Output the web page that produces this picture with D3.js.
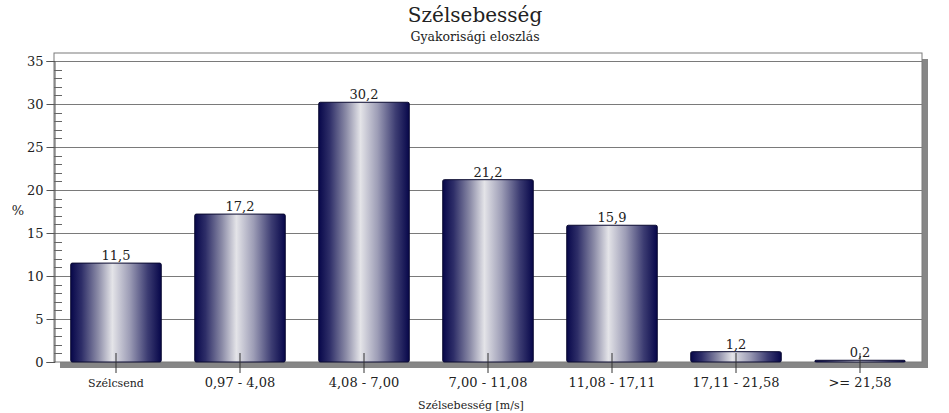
<!DOCTYPE html>
<html>
<head>
<meta charset="utf-8">
<script src="https://cdn.jsdelivr.net/npm/d3@7"></script>
<style>
    body { margin: 0; background: #fff; }
    text { font-family: "DejaVu Serif", serif; fill: #222; }
</style>
</head>
<body>
<svg id="chart" width="949" height="413"></svg>
<script>
// categories and values
const categories = ["Szélcsend", "0,97 - 4,08", "4,08 - 7,00", "7,00 - 11,08", "11,08 - 17,11", "17,11 - 21,58", ">= 21,58"];
const values = [11.5, 17.2, 30.2, 21.2, 15.9, 1.2, 0.2];
const yTicks = [0, 5, 10, 15, 20, 25, 30, 35];

const svg = d3.select("#chart");
const plotLeft = 54, plotRight = 922, plotTop = 53, plotBottom = 362;

const x = d3.scaleBand().domain(categories).range([plotLeft, plotRight]).paddingInner(0.27).paddingOuter(0.135);
const y = d3.scaleLinear().domain([0, 35]).range([plotBottom, 61]);

// bar gradient
const grad = svg.append("defs").append("linearGradient")
    .attr("id", "barGrad").attr("x1", "0%").attr("x2", "100%").attr("y1", "0%").attr("y2", "0%");
[[0, "#07074a"], [0.12, "#2e2e68"], [0.3, "#8a8aa6"], [0.46, "#e4e4e8"], [0.65, "#9d9db6"], [0.85, "#3c3c72"], [1, "#07074a"]]
    .forEach(s => grad.append("stop").attr("offset", s[0]).attr("stop-color", s[1]));

// titles
svg.append("text").attr("x", 475).attr("y", 22).attr("text-anchor", "middle")
    .style("font-size", "20px").text("Szélsebesség");
svg.append("text").attr("x", 475).attr("y", 41).attr("text-anchor", "middle")
    .style("font-size", "12.5px").text("Gyakorisági eloszlás");

// plot shadow + frame
svg.append("rect").attr("x", plotLeft + 6).attr("y", plotTop + 6).attr("width", plotRight - plotLeft).attr("height", plotBottom - plotTop)
    .attr("fill", "#868686");
svg.append("rect").attr("x", plotLeft).attr("y", plotTop).attr("width", plotRight - plotLeft).attr("height", plotBottom - plotTop)
    .attr("fill", "#fff").attr("stroke", "#7a7a7a").attr("stroke-width", 1);

// gridlines
svg.append("g").selectAll("line").data(yTicks.filter(d => d > 0)).join("line")
    .attr("x1", plotLeft).attr("x2", plotRight)
    .attr("y1", d => Math.round(y(d)) + 0.5).attr("y2", d => Math.round(y(d)) + 0.5)
    .attr("stroke", "#7a7a7a");

// y axis with minor ticks inside
const yAxis = svg.append("g").attr("transform", `translate(${plotLeft + 0.5},0)`)
    .call(d3.axisLeft(y).tickValues(yTicks).tickSize(8).tickPadding(3).tickFormat(d3.format("d")));
yAxis.select(".domain").attr("stroke", "#555");
yAxis.selectAll(".tick line").attr("stroke", "#555");
yAxis.selectAll("text").style("font-size", "13px").style("font-family", "DejaVu Serif").attr("fill", "#222");

svg.append("g").selectAll("line").data(d3.range(0, 36).filter(d => d % 5 !== 0)).join("line")
    .attr("x1", plotLeft).attr("x2", plotLeft + 8)
    .attr("y1", d => Math.round(y(d)) + 0.5).attr("y2", d => Math.round(y(d)) + 0.5)
    .attr("stroke", "#666");

svg.append("text").attr("x", 18).attr("y", 215).attr("text-anchor", "middle")
    .style("font-size", "13px").text("%");

// bars
svg.append("g").selectAll("rect").data(values).join("rect")
    .attr("x", (d, i) => x(categories[i]))
    .attr("y", d => y(d))
    .attr("width", x.bandwidth())
    .attr("height", d => plotBottom - y(d))
    .attr("rx", 1.5)
    .attr("fill", "url(#barGrad)")
    .attr("stroke", "#0a0a30").attr("stroke-width", 1);

// value labels
svg.append("g").selectAll("text").data(values).join("text")
    .attr("x", (d, i) => x(categories[i]) + x.bandwidth() / 2)
    .attr("y", d => y(d) - 3)
    .attr("text-anchor", "middle")
    .style("font-size", "13px")
    .text(d => d3.format(".1f")(d).replace(".", ","));

// x axis ticks and labels
const xAxis = svg.append("g").attr("transform", `translate(0,${plotBottom + 11})`)
    .call(d3.axisBottom(x).tickSize(20));
xAxis.select(".domain").remove();
xAxis.selectAll(".tick line").attr("y1", -20).attr("y2", 0).attr("stroke", "#333");
xAxis.selectAll("text")
    .attr("y", 14).attr("dy", 0)
    .style("font-family", "DejaVu Serif")
    .style("font-size", (d, i) => i === 0 ? "11px" : "13px")
    .attr("fill", "#222");

svg.append("text").attr("x", 471).attr("y", 409).attr("text-anchor", "middle")
    .style("font-size", "11px").text("Szélsebesség [m/s]");
</script>
</body>
</html>
